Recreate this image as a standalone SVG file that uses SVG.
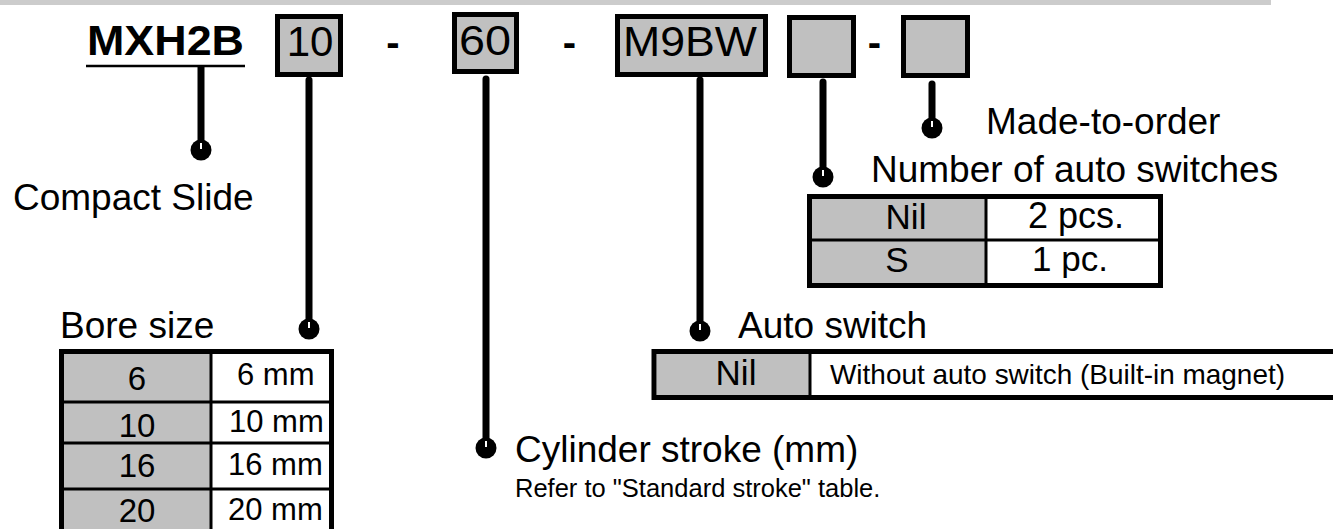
<svg xmlns="http://www.w3.org/2000/svg" width="1333" height="529" viewBox="0 0 1333 529">
<style>
.t{font-family:"Liberation Sans",Arial,Helvetica,sans-serif;fill:#000}
.b{font-weight:bold}
.m{text-anchor:middle}
.box{fill:#c0c0c0;stroke:#000;stroke-width:5}
.tbl{fill:none;stroke:#000;stroke-width:5}
.grid{stroke:#000;stroke-width:3;fill:none}
.gray{fill:#c0c0c0}
#connectors line{stroke:#000;stroke-width:7;stroke-linecap:round}
#connectors line.flat{stroke-linecap:butt}
#connectors circle{fill:#000}
#connectors line.tick{stroke:#fff;stroke-width:2;stroke-linecap:butt}
</style>
<rect width="1333" height="529" fill="#fff"/>
<rect x="0" y="0" width="1271" height="5" fill="#cccccc"/>

<g id="code-series">
  <text class="t b" x="87" y="55" font-size="43" textLength="157" lengthAdjust="spacingAndGlyphs">MXH2B</text>
  <line x1="86" y1="66" x2="245" y2="66" stroke="#000" stroke-width="2.5"/>
</g>
<g id="code-bore">
  <rect class="box" x="277.5" y="16.5" width="63" height="58"/>
  <text class="t m" x="310" y="56" font-size="42">10</text>
</g>
<text class="t m b" x="393" y="56" font-size="40">-</text>
<g id="code-stroke">
  <rect class="box" x="454.5" y="14.5" width="62" height="57"/>
  <text class="t m" x="485" y="55" font-size="42" textLength="52" lengthAdjust="spacingAndGlyphs">60</text>
</g>
<text class="t m b" x="569.5" y="56" font-size="40">-</text>
<g id="code-switch">
  <rect class="box" x="617.5" y="16.5" width="148" height="58"/>
  <text class="t" x="623" y="56" font-size="42" textLength="134" lengthAdjust="spacingAndGlyphs">M9BW</text>
</g>
<g id="code-number">
  <rect class="box" x="789.5" y="17.5" width="64" height="58"/>
</g>
<text class="t m b" x="874.5" y="56" font-size="40">-</text>
<g id="code-mto">
  <rect class="box" x="903.5" y="17.5" width="64" height="58"/>
</g>

<g id="connectors">
  <line class="flat" x1="201" y1="67" x2="201" y2="148"/>
  <line x1="309" y1="80" x2="309" y2="327"/>
  <line x1="486" y1="79" x2="486" y2="446"/>
  <line x1="700" y1="80" x2="700" y2="329"/>
  <line x1="823" y1="82" x2="823" y2="175"/>
  <line x1="932" y1="84" x2="932" y2="126"/>
  <circle cx="201" cy="150" r="10.5"/>
  <circle cx="309" cy="329" r="10.5"/>
  <circle cx="486" cy="448" r="10.5"/>
  <circle cx="700" cy="331" r="10.5"/>
  <circle cx="823" cy="177" r="10.5"/>
  <circle cx="932" cy="128" r="10.5"/>
  <line class="tick" x1="201" y1="143" x2="201" y2="149"/>
  <line class="tick" x1="309" y1="322" x2="309" y2="328"/>
  <line class="tick" x1="486" y1="441" x2="486" y2="447"/>
  <line class="tick" x1="700" y1="324" x2="700" y2="330"/>
  <line class="tick" x1="823" y1="170" x2="823" y2="176"/>
  <line class="tick" x1="932" y1="121" x2="932" y2="127"/>
</g>

<g id="label-series">
  <text class="t" x="13" y="210" font-size="37">Compact Slide</text>
</g>

<g id="label-bore">
  <text class="t" x="60" y="338" font-size="37">Bore size</text>
  <rect class="gray" x="64" y="354" width="147" height="180"/>
  <line class="grid" x1="211" y1="354" x2="211" y2="529"/>
  <line class="grid" x1="64" y1="402" x2="329" y2="402"/>
  <line class="grid" x1="64" y1="443" x2="329" y2="443"/>
  <line class="grid" x1="64" y1="489" x2="329" y2="489"/>
  <rect class="tbl" x="61.5" y="351.5" width="270" height="200"/>
  <text class="t m" x="137" y="390" font-size="33">6</text>
  <text class="t m" x="137" y="437" font-size="33">10</text>
  <text class="t m" x="137" y="477" font-size="33">16</text>
  <text class="t m" x="137" y="522" font-size="33">20</text>
  <text class="t" x="237" y="385" font-size="31">6 mm</text>
  <text class="t" x="229" y="432" font-size="31">10 mm</text>
  <text class="t" x="228" y="475" font-size="31">16 mm</text>
  <text class="t" x="228" y="520" font-size="31">20 mm</text>
</g>

<g id="label-stroke">
  <text class="t" x="515" y="462" font-size="37">Cylinder stroke (mm)</text>
  <text class="t" x="515" y="497" font-size="25.5">Refer to "Standard stroke" table.</text>
</g>

<g id="label-switch">
  <text class="t" x="738" y="338" font-size="37">Auto switch</text>
  <rect class="gray" x="656.5" y="354" width="153.5" height="41"/>
  <line class="grid" x1="810" y1="354" x2="810" y2="395"/>
  <rect class="tbl" x="654" y="351.5" width="700" height="46"/>
  <text class="t m" x="736" y="385" font-size="35">Nil</text>
  <text class="t" x="830" y="384" font-size="28" textLength="455" lengthAdjust="spacingAndGlyphs">Without auto switch (Built-in magnet)</text>
</g>

<g id="label-number">
  <text class="t" x="871" y="182" font-size="37">Number of auto switches</text>
  <rect class="gray" x="812" y="199" width="174" height="84"/>
  <line class="grid" x1="986" y1="199" x2="986" y2="283"/>
  <line class="grid" x1="812" y1="240" x2="1158" y2="240"/>
  <rect class="tbl" x="809.5" y="196.5" width="351" height="89"/>
  <text class="t m" x="906" y="229" font-size="35">Nil</text>
  <text class="t m" x="1076" y="228" font-size="36">2 pcs.</text>
  <text class="t m" x="897" y="272" font-size="35">S</text>
  <text class="t m" x="1070" y="271" font-size="35">1 pc.</text>
</g>

<g id="label-mto">
  <text class="t" x="986" y="134" font-size="37">Made-to-order</text>
</g>
</svg>
